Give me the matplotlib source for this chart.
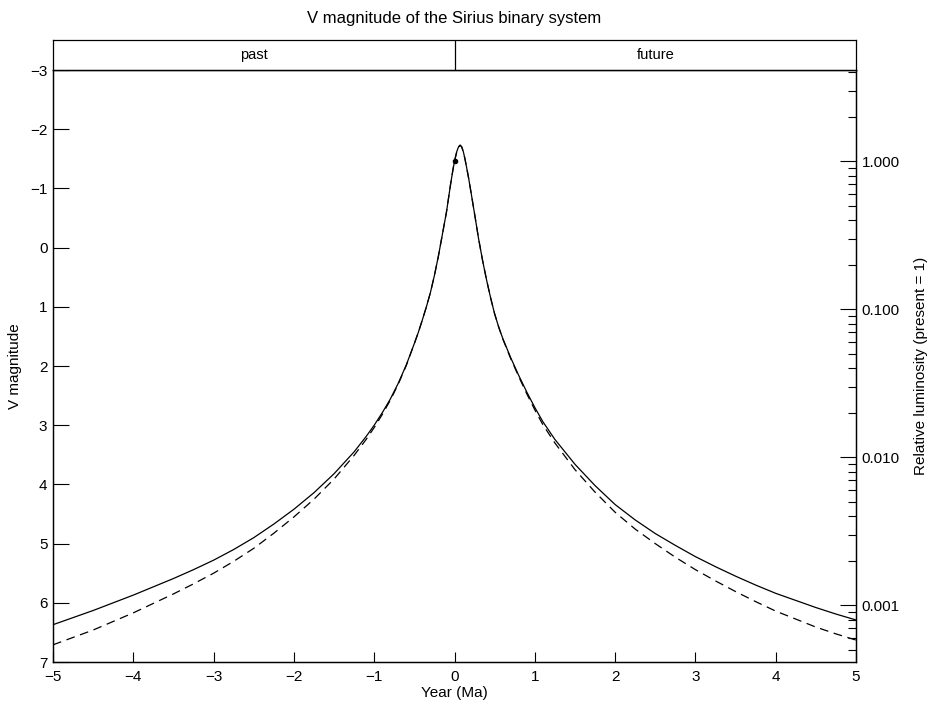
import matplotlib

matplotlib.use("Agg")

import numpy as np
import matplotlib.pyplot as plt
from matplotlib.ticker import FixedLocator, LogLocator, NullFormatter

plt.rcParams["font.family"] = ["Liberation Sans", "DejaVu Sans"]
plt.rcParams["font.size"] = 11

# time in millions of years (negative = past)
years = [-5.0, -4.75, -4.5, -4.25, -4.0, -3.75, -3.5, -3.25, -3.0, -2.75,
         -2.5, -2.25, -2.0, -1.75, -1.5, -1.25, -1.1, -1.0, -0.9, -0.8,
         -0.7, -0.6, -0.5, -0.45, -0.4, -0.35, -0.3, -0.25, -0.2, -0.15,
         -0.1, -0.05, -0.02, 0.0,
         0.03, 0.05, 0.07, 0.09, 0.11, 0.13, 0.15, 0.175, 0.2, 0.25,
         0.3, 0.35, 0.4, 0.45, 0.5, 0.55, 0.6, 0.7, 0.8, 0.9,
         1.0, 1.1, 1.25, 1.5, 1.75, 2.0, 2.25, 2.5, 2.75, 3.0,
         3.25, 3.5, 3.75, 4.0, 4.25, 4.5, 4.75, 5.0]

# combined V magnitude, no extinction
vmag = [6.37, 6.25, 6.13, 6.00, 5.87, 5.73, 5.59, 5.44, 5.28, 5.10,
        4.90, 4.67, 4.42, 4.14, 3.82, 3.45, 3.19, 3.00, 2.79, 2.56,
        2.29, 1.98, 1.62, 1.43, 1.22, 1.00, 0.76, 0.47, 0.14, -0.23,
        -0.60, -1.06, -1.31, -1.46,
        -1.63, -1.70, -1.73, -1.70, -1.62, -1.50, -1.36, -1.18, -0.98, -0.57,
        -0.15, 0.22, 0.55, 0.85, 1.12, 1.34, 1.53, 1.86, 2.16, 2.44,
        2.70, 2.94, 3.24, 3.66, 4.02, 4.34, 4.60, 4.83, 5.03, 5.22,
        5.39, 5.55, 5.70, 5.84, 5.96, 6.08, 6.19, 6.29]

# combined V magnitude with interstellar extinction
vmag_ext = [6.71, 6.585, 6.46, 6.315, 6.17, 6.01, 5.85, 5.68, 5.50, 5.30,
            5.08, 4.825, 4.55, 4.25, 3.91, 3.51, 3.24, 3.04, 2.82, 2.58,
            2.305, 1.99, 1.62, 1.43, 1.22, 1.00, 0.76, 0.47, 0.14, -0.23,
            -0.60, -1.06, -1.31, -1.46,
            -1.63, -1.70, -1.73, -1.70, -1.62, -1.50, -1.36, -1.18, -0.98, -0.57,
            -0.15, 0.22, 0.55, 0.85, 1.12, 1.34, 1.54, 1.875, 2.18, 2.47,
            2.74, 2.99, 3.30, 3.75, 4.13, 4.47, 4.755, 5.00, 5.23, 5.44,
            5.63, 5.81, 5.98, 6.14, 6.275, 6.41, 6.525, 6.63]

present_year = 0.0
present_vmag = -1.46

vmin, vmax = -3, 7

fig = plt.figure(figsize=(9.34, 7.04), dpi=100)
ax = fig.add_axes([53 / 934, 42 / 704, 803 / 934, 592 / 704])
strip = fig.add_axes([53 / 934, 634 / 704, 803 / 934, 30 / 704])

ax.plot(years, vmag, color="black", lw=0.9)
ax.plot(years, vmag_ext, color="black", lw=0.9, dashes=(7, 4.5))
ax.plot([present_year], [present_vmag], "o", color="black", ms=3)

ax.set_xlim(-5, 5)
ax.set_ylim(vmax, vmin)
ax.set_xticks(np.arange(-5, 6, 1))
ax.set_yticks(np.arange(-3, 8, 1))
ax.tick_params(axis="x", direction="in", length=7.5, width=0.8, pad=6)
ax.tick_params(axis="y", direction="in", length=11.5, width=0.8, pad=4)
ax.set_xlabel("Year (Ma)", labelpad=1)
ax.set_ylabel("V magnitude", labelpad=6)
for s in ax.spines.values():
    s.set_linewidth(0.9)

# luminosity relative to today on the right
ax2 = ax.twinx()
ax2.set_yscale("log")
ax2.set_ylim(10 ** (-0.4 * (vmax - present_vmag)), 10 ** (-0.4 * (vmin - present_vmag)))
ax2.yaxis.set_major_locator(FixedLocator([0.001, 0.01, 0.1, 1.0]))
ax2.yaxis.set_minor_locator(LogLocator(base=10, subs=np.arange(2, 10)))
ax2.yaxis.set_minor_formatter(NullFormatter())
ax2.set_yticklabels(["0.001", "0.010", "0.100", "1.000"])
ax2.tick_params(axis="y", which="major", direction="in", length=11.5, width=0.8, pad=4)
ax2.tick_params(axis="y", which="minor", direction="in", length=5.5, width=0.8)
ax2.set_ylabel("Relative luminosity (present = 1)", labelpad=10)
for s in ax2.spines.values():
    s.set_linewidth(0.9)

# past / future strip
strip.set_xlim(-5, 5)
strip.set_ylim(0, 1)
strip.axvline(0, color="black", lw=0.9)
strip.text(-2.5, 0.5, "past", ha="center", va="center", fontsize=10.5)
strip.text(2.5, 0.5, "future", ha="center", va="center", fontsize=10.5)
strip.set_xticks([])
strip.set_yticks([])
for s in strip.spines.values():
    s.set_linewidth(0.9)

fig.text(454.5 / 934, 1 - 18 / 704, "V magnitude of the Sirius binary system",
         ha="center", va="center", fontsize=12)

plt.savefig("out.png", dpi=100)
plt.close()
